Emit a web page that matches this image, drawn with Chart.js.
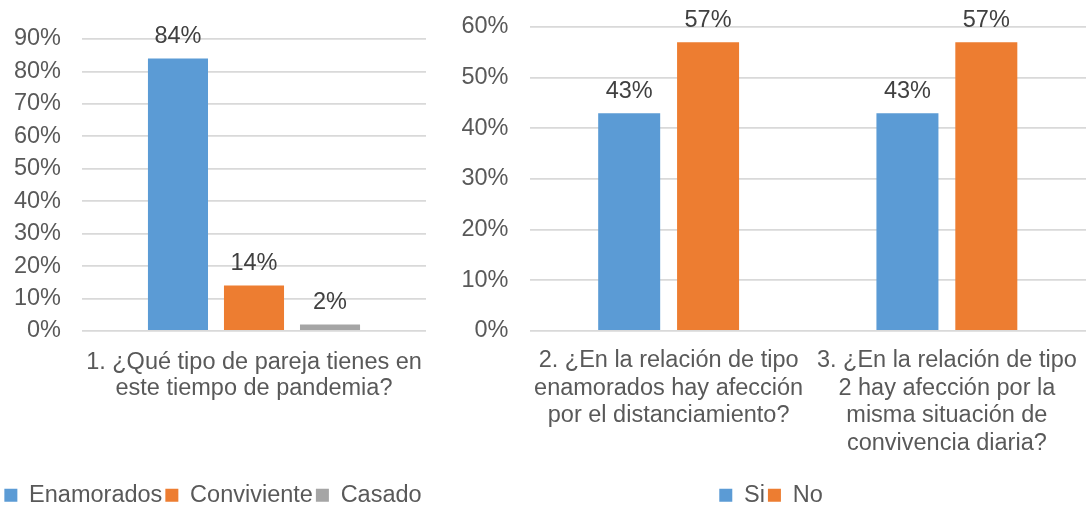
<!DOCTYPE html>
<html>
<head>
<meta charset="utf-8">
<script src="https://cdn.jsdelivr.net/npm/chart.js@4.4.1/dist/chart.umd.min.js"></script>
<style>
  html, body { margin: 0; padding: 0; background: #ffffff; overflow: hidden; width: 1086px; height: 508px; }
  .box { position: absolute; top: 0; height: 517px; }
  #leftBox { left: 0; width: 440px; }
  #rightBox { left: 456px; width: 630px; }
</style>
</head>
<body>
<div class="box" id="leftBox"><canvas id="c1"></canvas></div>
<div class="box" id="rightBox"><canvas id="c2"></canvas></div>
<script>
// ---- data ----
const leftCategories = [["1. ¿Qué tipo de pareja tienes en", "este tiempo de pandemia?"]];
const leftSeriesNames = ["Enamorados", "Conviviente", "Casado"];
const enamorados = [84];
const conviviente = [14];
const casado = [2];
const leftMax = 90;

const rightCategories = [
  ["2. ¿En la relación de tipo", "enamorados hay afección", "por el distanciamiento?"],
  ["3. ¿En la relación de tipo", "2 hay afección por la", "misma situación de", "convivencia diaria?"]
];
const rightSeriesNames = ["Si", "No"];
const si = [43, 43];
const no = [57, 57];
const rightMax = 60;

// ---- styles ----
const BLUE = "#5B9BD5", ORANGE = "#ED7D31", GRAY = "#A5A5A5";
const FONT = "'Liberation Sans', Arial, sans-serif";
const FS = 23.5;
const AXIS_COLOR = "#595959";
const LABEL_COLOR = "#404040";
const GRID = "#D9D9D9";

const valueLabels = {
  id: "valueLabels",
  afterDatasetsDraw(chart) {
    const ctx = chart.ctx;
    ctx.save();
    ctx.font = FS + "px " + FONT;
    ctx.fillStyle = LABEL_COLOR;
    ctx.textAlign = "center";
    ctx.textBaseline = "alphabetic";
    chart.data.datasets.forEach((ds, i) => {
      const meta = chart.getDatasetMeta(i);
      meta.data.forEach((el, j) => {
        const v = ds.data[j];
        ctx.fillText(Math.round(v) + "%", el.x, el.y - 15.5);
      });
    });
    ctx.restore();
  }
};

function makeOptions(max, yWidth, xHeight, top, padRight, catPct, barPct, lineH, xPad) {
  return {
    responsive: true,
    maintainAspectRatio: false,
    animation: false,
    layout: { padding: { top: top, right: padRight, left: 0, bottom: 0 } },
    datasets: { bar: { categoryPercentage: catPct, barPercentage: barPct } },
    plugins: {
      tooltip: { enabled: false },
      legend: {
        position: "bottom",
        labels: {
          boxWidth: 13, boxHeight: 13, padding: 3,
          color: AXIS_COLOR,
          font: { family: FONT, size: FS }
        }
      }
    },
    scales: {
      x: {
        grid: { display: false },
        border: { display: false },
        ticks: {
          color: AXIS_COLOR, maxRotation: 0, minRotation: 0, autoSkip: false,
          padding: xPad,
          font: { family: FONT, size: FS, lineHeight: lineH }
        },
        afterFit(scale) {
          scale.height = xHeight;
          scale.paddingLeft = 0;
          scale.paddingRight = 0;
        }
      },
      y: {
        min: 0, max: max,
        grid: { color: GRID, lineWidth: 1.8, drawTicks: false },
        border: { display: false },
        ticks: {
          stepSize: 10, padding: 21, color: AXIS_COLOR,
          font: { family: FONT, size: FS },
          callback: v => v + "%"
        },
        afterFit(scale) {
          scale.width = yWidth;
          scale.paddingTop = 0;
          scale.paddingBottom = 0;
        }
      }
    }
  };
}

new Chart(document.getElementById("c1"), {
  type: "bar",
  data: {
    labels: leftCategories,
    datasets: [
      { label: leftSeriesNames[0], data: enamorados, backgroundColor: BLUE },
      { label: leftSeriesNames[1], data: conviviente, backgroundColor: ORANGE },
      { label: leftSeriesNames[2], data: casado, backgroundColor: GRAY }
    ]
  },
  options: makeOptions(leftMax, 82, 149.5, 39, 14, 0.663, 0.79, 26 / FS, 11),
  plugins: [valueLabels]
});

new Chart(document.getElementById("c2"), {
  type: "bar",
  data: {
    labels: rightCategories,
    datasets: [
      { label: rightSeriesNames[0], data: si, backgroundColor: BLUE },
      { label: rightSeriesNames[1], data: no, backgroundColor: ORANGE }
    ]
  },
  options: makeOptions(rightMax, 73.5, 149.5, 27, 0, 0.567, 0.786, 27.5 / FS, 8),
  plugins: [valueLabels]
});
</script>
</body>
</html>
